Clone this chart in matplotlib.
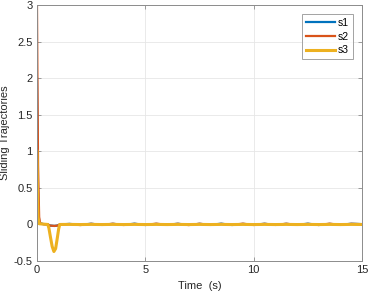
import matplotlib
matplotlib.use("Agg")
import matplotlib.pyplot as plt

# ---- data ----
t1 = [0.0, 0.02, 0.05, 0.10, 0.30, 0.50, 0.60, 0.80, 0.95, 1.05, 1.50, 2.00, 2.50, 3.00, 3.50,
      4.00, 4.50, 5.00, 5.50, 6.00, 6.50, 7.00, 7.50, 8.00, 8.50, 9.00, 9.50, 10.0, 10.5,
      11.0, 11.5, 12.0, 12.5, 13.0, 13.5, 14.0, 14.5, 15.0]
s1 = [2.0, 1.2, 0.35, 0.02, 0.005, 0.0, -0.015, -0.02, -0.015, 0.0, 0.008, -0.004, 0.010,
      -0.006, 0.009, -0.005, 0.011, -0.007, 0.008, -0.004, 0.010, -0.006, 0.009, -0.005,
      0.011, -0.007, 0.008, -0.004, 0.010, -0.006, 0.009, -0.005, 0.011, -0.007, 0.008,
      -0.004, 0.010, 0.005]

t2 = [0.0, 0.02, 0.05, 0.10, 0.15, 0.30, 0.50, 0.60, 0.80, 0.95, 1.05, 1.50, 2.00, 2.50,
      3.00, 3.50, 4.00, 4.50, 5.00, 5.50, 6.00, 6.50, 7.00, 7.50, 8.00, 8.50, 9.00, 9.50,
      10.0, 10.5, 11.0, 11.5, 12.0, 12.5, 13.0, 13.5, 14.0, 14.5, 15.0]
s2 = [3.0, 2.0, 0.8, 0.1, 0.01, 0.005, 0.0, -0.015, -0.02, -0.015, 0.0, 0.006, -0.008,
      0.009, -0.005, 0.010, -0.007, 0.008, -0.006, 0.011, -0.005, 0.009, -0.008, 0.010,
      -0.006, 0.008, -0.005, 0.011, -0.007, 0.009, -0.006, 0.010, -0.005, 0.008, -0.007,
      0.011, -0.006, 0.009, 0.004]

t3 = [0.0, 0.02, 0.05, 0.10, 0.30, 0.50, 0.55, 0.62, 0.70, 0.78, 0.86, 0.94, 1.00, 1.05,
      1.50, 2.00, 2.50, 3.00, 3.50, 4.00, 4.50, 5.00, 5.50, 6.00, 6.50, 7.00, 7.50, 8.00,
      8.50, 9.00, 9.50, 10.0, 10.5, 11.0, 11.5, 12.0, 12.5, 13.0, 13.5, 14.0, 14.5, 15.0]
s3 = [1.0, 0.5, 0.1, 0.01, 0.005, 0.0, -0.05, -0.17, -0.30, -0.37, -0.33, -0.18, -0.06,
      0.0, 0.001, -0.001, 0.001, -0.001, 0.001, -0.001, 0.001, -0.001, 0.001, -0.001,
      0.001, -0.001, 0.001, -0.001, 0.001, -0.001, 0.001, -0.001, 0.001, -0.001, 0.001,
      -0.001, 0.001, -0.001, 0.001, -0.001, 0.001, 0.0]

labels = ["s1", "s2", "s3"]
colors = ["#0072BD", "#D95319", "#EDB120"]

xticks = [0, 5, 10, 15]
yticks = [-0.5, 0, 0.5, 1, 1.5, 2, 2.5, 3]
yticklabels = ["-0.5", "0", "0.5", "1", "1.5", "2", "2.5", "3"]

# ---- figure ----
plt.rcParams['font.family'] = ['Liberation Sans', 'DejaVu Sans']
fig = plt.figure(figsize=(3.68, 2.93), dpi=100)
ax = fig.add_axes([0.1005, 0.109, 0.8835, 0.874])

ax.plot(t1, s1, color=colors[0], lw=1.6, label=labels[0])
ax.plot(t2, s2, color=colors[1], lw=1.6, label=labels[1])
ax.plot(t3, s3, color=colors[2], lw=2.2, label=labels[2])

ax.set_xlim(0, 15)
ax.set_ylim(-0.5, 3)
ax.set_xticks(xticks)
ax.set_yticks(yticks)
ax.set_yticklabels(yticklabels)
ax.grid(True, color="#e6e6e6", lw=0.6)
ax.set_axisbelow(True)
for sp in ax.spines.values():
    sp.set_color("#8c8c8c")
    sp.set_linewidth(0.7)
ax.tick_params(direction="in", top=True, right=True, length=3, width=0.6,
               color="#8c8c8c", labelsize=8, labelcolor="#262626", pad=3)

ax.set_xlabel("Time  (s)", fontsize=8, color="#262626", labelpad=4)
ax.set_ylabel("Sliding Trajectories", fontsize=8, color="#262626", labelpad=3)

leg = ax.legend(loc="upper right", fontsize=7.5, frameon=True, fancybox=False,
                handlelength=2.8, handletextpad=0.3, borderpad=0.35, labelspacing=0.35,
                borderaxespad=0.9)
leg.get_frame().set_edgecolor("#8c8c8c")
leg.get_frame().set_linewidth(0.7)

fig.savefig("out.png", dpi=100)
